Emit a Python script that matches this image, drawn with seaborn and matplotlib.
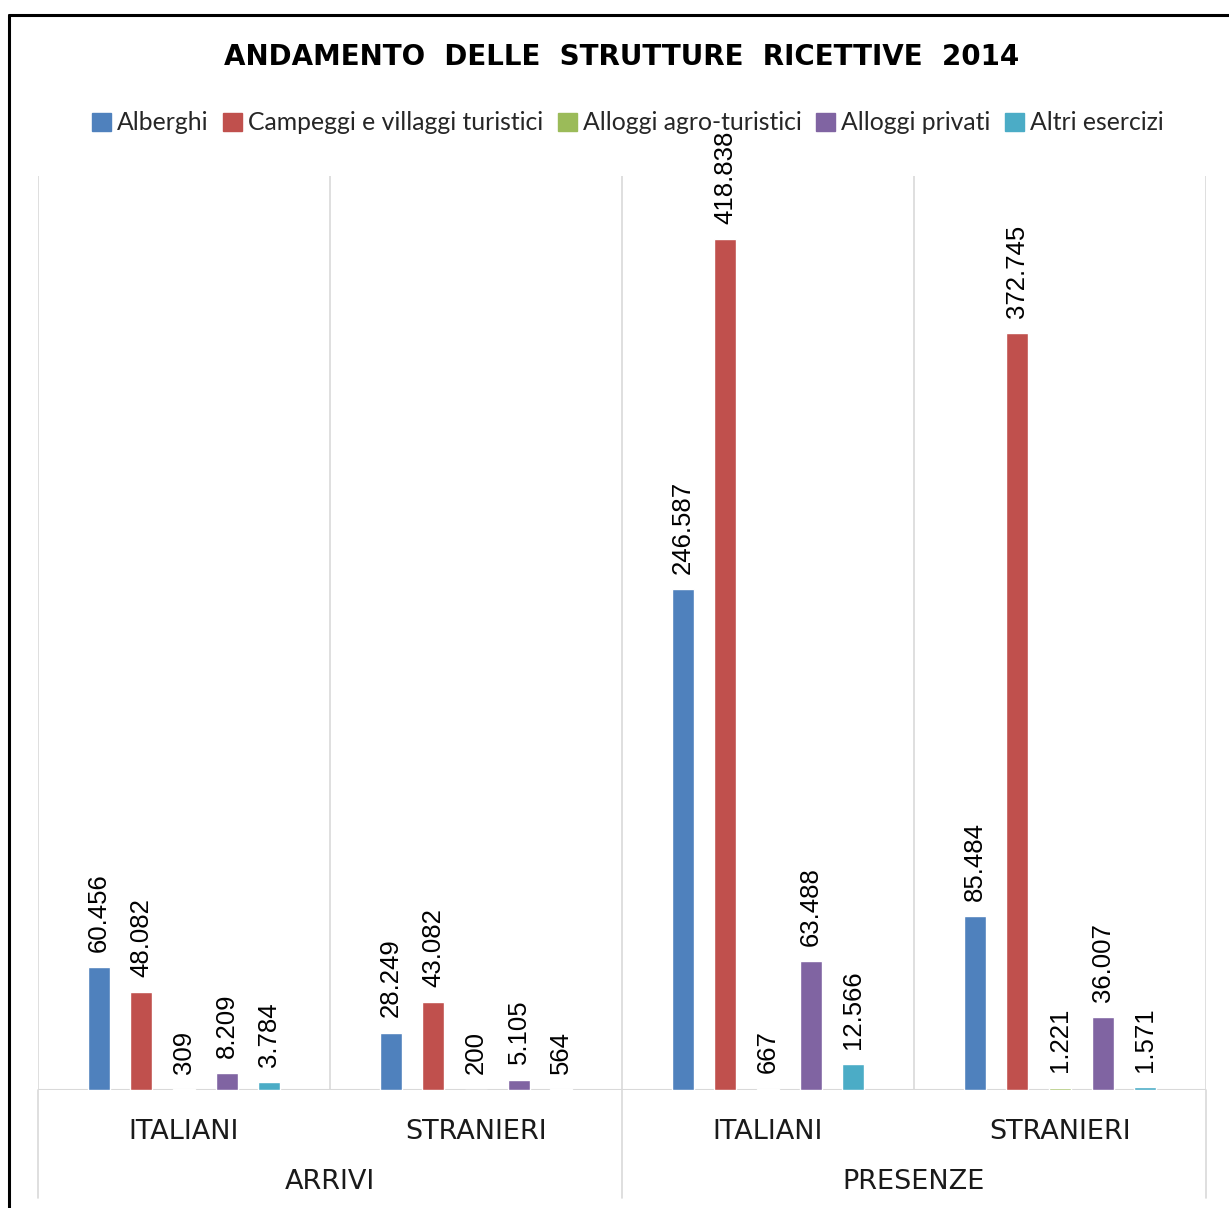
import matplotlib
matplotlib.use("Agg")
import matplotlib.pyplot as plt
from matplotlib.lines import Line2D
import matplotlib.transforms as mtrans
import seaborn as sns
import pandas as pd

# ---- data ----
gruppi = ["ARRIVI", "ARRIVI", "PRESENZE", "PRESENZE"]
provenienze = ["ITALIANI", "STRANIERI", "ITALIANI", "STRANIERI"]
serie = ["Alberghi", "Campeggi e villaggi turistici", "Alloggi agro-turistici",
         "Alloggi privati", "Altri esercizi"]
alberghi = [60456, 28249, 246587, 85484]
campeggi = [48082, 43082, 418838, 372745]
agroturistici = [309, 200, 667, 1221]
privati = [8209, 5105, 63488, 36007]
altri = [3784, 564, 12566, 1571]
colori = ["#4F81BD", "#C0504D", "#9BBB59", "#8064A2", "#4BACC6"]
titolo = "ANDAMENTO  DELLE  STRUTTURE  RICETTIVE  2014"

valori = [alberghi, campeggi, agroturistici, privati, altri]
categorie = [f"{g}|{p}" for g, p in zip(gruppi, provenienze)]
rows = []
for s, vals in zip(serie, valori):
    for c, v in zip(categorie, vals):
        rows.append({"cat": c, "tipo": s, "valore": v})
df = pd.DataFrame(rows)

sns.set_theme(style="white")
plt.rcParams["font.family"] = ["DejaVu Sans"]

W, H = 1229, 1208
fig = plt.figure(figsize=(W / 100, H / 100), dpi=100)
ax = fig.add_axes([38 / W, 1 - 1090 / H, (1206 - 38) / W, (1090 - 176) / H])

sns.barplot(data=df, x="cat", y="valore", hue="tipo", order=categorie,
            hue_order=serie, palette=colori, width=0.73, gap=0.48,
            saturation=1, ax=ax, legend=False, errorbar=None)

ax.set_xlim(-0.5, 3.5)
ax.set_ylim(0, 450000)
for sp in ax.spines.values():
    sp.set_visible(False)
ax.set_yticks([])
ax.set_ylabel("")
ax.set_xlabel("")

# labels
for cont, vals in zip(ax.containers, valori):
    labs = [f"{v:,}".replace(",", ".") for v in vals]
    ax.bar_label(cont, labels=labs, rotation=90, padding=11,
                 fontsize=18.5, family="Liberation Sans", color="#000000")

# grid lines
for xv in [-0.5, 0.5, 1.5, 2.5, 3.5]:
    ax.axvline(xv, color="#D9D9D9", lw=1.2, zorder=0)
ax.axhline(0, color="#D9D9D9", lw=1.5, zorder=0)

# lower extended separators
blend = mtrans.blended_transform_factory(ax.transData, fig.transFigure)
for xv in [-0.5, 1.5, 3.5]:
    ax.add_line(Line2D([xv, xv], [1 - 1090 / H, 1 - 1198 / H], transform=blend,
                       color="#D9D9D9", lw=1.2, clip_on=False))

ax.set_xticks(range(4))
ax.set_xticklabels(provenienze, fontsize=19.5, color="#1a1a1a")
ax.tick_params(axis="x", length=0, pad=21)

for xv, g in [(0.5, "ARRIVI"), (2.5, "PRESENZE")]:
    ax.text(xv, 1 - 1182 / H, g, transform=blend, ha="center", va="center",
            fontsize=19.5, color="#1a1a1a")

# title
fig.text(622 / W, 1 - 57 / H, titolo, ha="center", va="center",
         fontsize=20, fontweight="bold", color="#000000")

# legend
handles = [plt.Rectangle((0, 0), 1, 1, color=c) for c in colori]
fig.legend(handles, serie, loc="center", bbox_to_anchor=(628 / W, 1 - 123 / H),
           ncol=5, frameon=False, handlelength=0.75,
           handleheight=0.75, handletextpad=0.25, columnspacing=0.6,
           prop={"family": "Lato", "size": 17.8})

# outer border
fig.add_artist(Line2D([9 / W, 1.0], [1 - 15 / H, 1 - 15 / H], transform=fig.transFigure,
                      color="black", lw=2.2))
fig.add_artist(Line2D([9 / W, 9 / W], [1 - 15 / H, 0.0], transform=fig.transFigure,
                      color="black", lw=2.2))

fig.savefig("out.png", dpi=100, facecolor="white")
